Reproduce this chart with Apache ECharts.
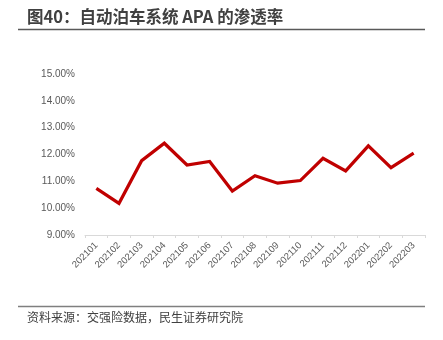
<!DOCTYPE html>
<html><head><meta charset="utf-8">
<script src="https://cdn.jsdelivr.net/npm/echarts@6/dist/echarts.min.js"></script>
<style>html,body{margin:0;padding:0;background:#fff}#c{width:443px;height:340px}</style>
</head><body><div id="c"></div>
<script>
const categories = ['202101','202102','202103','202104','202105','202106','202107','202108','202109','202110','202111','202112','202201','202202','202203'];
const penetration = [10.74, 10.18, 11.77, 12.42, 11.61, 11.74, 10.64, 11.21, 10.93, 11.03, 11.86, 11.39, 12.32, 11.51, 12.05];
const yTicks = [9, 10, 11, 12, 13, 14, 15];
const titleText = '图40：自动泊车系统 APA 的渗透率';
const sourceText = '资料来源：交强险数据，民生证券研究院';

const chart = echarts.init(document.getElementById('c'), null, {renderer: 'canvas'});
chart.setOption({
  animation: false,
  backgroundColor: '#fff',
  grid: {left: 85, right: 18, top: 74, bottom: 105},
  xAxis: {
    type: 'category',
    data: categories,
    boundaryGap: true,
    axisLine: {lineStyle: {color: '#d9d9d9', width: 1}},
    axisTick: {show: true, length: 3, lineStyle: {color: '#d9d9d9'}},
    axisLabel: {rotate: 45, color: '#595959', fontSize: 9.5, margin: 9, fontFamily: 'Liberation Sans', interval: 0}
  },
  yAxis: {
    type: 'value',
    min: yTicks[0], max: yTicks[yTicks.length - 1], interval: 1,
    splitLine: {show: false},
    axisLine: {show: false},
    axisTick: {show: false},
    axisLabel: {color: '#595959', fontSize: 10, margin: 10, fontFamily: 'Liberation Sans',
      formatter: v => v.toFixed(2) + '%'}
  },
  series: [{
    type: 'line',
    data: penetration,
    symbol: 'none',
    lineStyle: {color: '#c00000', width: 3.2, join: 'miter'},
    itemStyle: {color: '#c00000'}
  }],
  graphic: [
    {type: 'text', left: 27, top: 8.5, style: {text: titleText, fill: '#404040', font: 'bold 16.5px "Noto Sans CJK SC", sans-serif'}},
    {type: 'line', shape: {x1: 18, y1: 29.5, x2: 425, y2: 29.5}, style: {stroke: '#595959', lineWidth: 1.5}},
    {type: 'line', shape: {x1: 18, y1: 306.5, x2: 425, y2: 306.5}, style: {stroke: '#7f7f7f', lineWidth: 1.5}},
    {type: 'text', left: 27, top: 311, style: {text: sourceText, fill: '#404040', font: '12px "Noto Sans CJK SC", sans-serif'}}
  ]
});
</script></body></html>
